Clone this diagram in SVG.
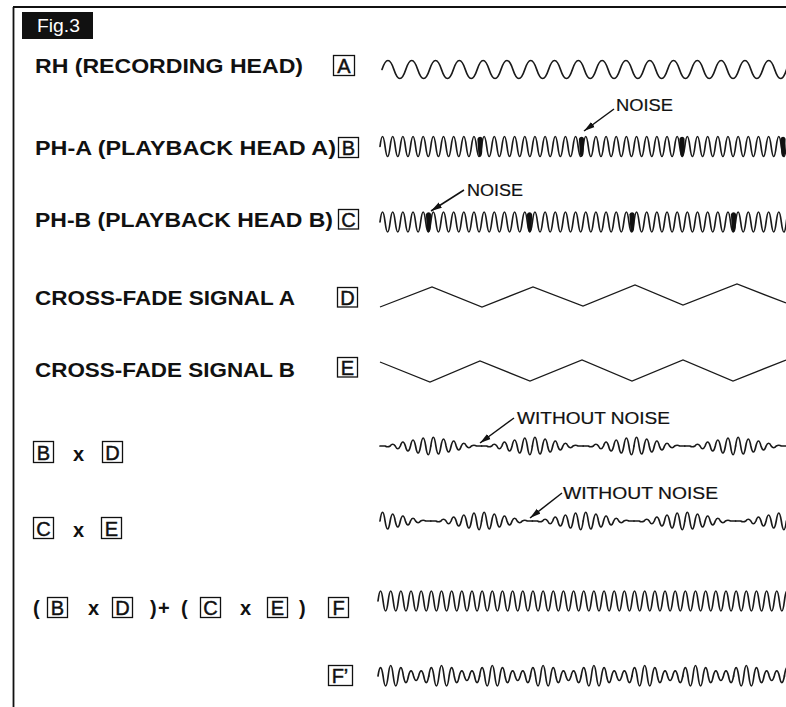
<svg xmlns="http://www.w3.org/2000/svg" xmlns:xlink="http://www.w3.org/1999/xlink" width="786" height="707" viewBox="0 0 786 707">
<style>
.lbl{font-family:"Liberation Sans",Arial,Helvetica,sans-serif;font-weight:bold;font-size:20px;fill:#111}
.box{fill:none;stroke:#111;stroke-width:1.3}
.bl{font-family:"Liberation Sans",Arial,Helvetica,sans-serif;font-size:20px;fill:#111;stroke:#111;stroke-width:0.45;text-anchor:middle}
.note{font-family:"Liberation Sans",Arial,Helvetica,sans-serif;font-size:17px;fill:#111;stroke:#111;stroke-width:0.2}
.wave{fill:none;stroke:#1a1a1a;stroke-width:1.7;stroke-linejoin:round;stroke-linecap:round}
.tri{fill:none;stroke:#1a1a1a;stroke-width:1.3;stroke-linejoin:miter}
.nz{fill:#111}
.arr{fill:none;stroke:#111;stroke-width:1.5}
.frame{fill:none;stroke:#111;stroke-width:1.8}
</style>
<defs>
<marker id="ah" markerUnits="userSpaceOnUse" markerWidth="12" markerHeight="8" refX="11" refY="3.5" orient="auto">
<path d="M0,0.5 L11,3.5 L0,6.5 Z" fill="#111"/>
</marker>
<path id="w10" class="wave" d="M0,0 q2.54,-20 5.08,0 t5.08,0 t5.08,0 t5.08,0 t5.08,0 t5.08,0 t5.08,0 t5.08,0 t5.08,0 t5.08,0 t5.08,0 t5.08,0 t5.08,0 t5.08,0 t5.08,0 t5.08,0 t5.08,0 t5.08,0 t5.08,0 t5.08,0 t5.08,0 t5.08,0 t5.08,0 t5.08,0 t5.08,0 t5.08,0 t5.08,0 t5.08,0 t5.08,0 t5.08,0 t5.08,0 t5.08,0 t5.08,0 t5.08,0 t5.08,0 t5.08,0 t5.08,0 t5.08,0 t5.08,0 t5.08,0 t5.08,0 t5.08,0 t5.08,0 t5.08,0 t5.08,0 t5.08,0 t5.08,0 t5.08,0 t5.08,0 t5.08,0 t5.08,0 t5.08,0 t5.08,0 t5.08,0 t5.08,0 t5.08,0 t5.08,0 t5.08,0 t5.08,0 t5.08,0 t5.08,0 t5.08,0 t5.08,0 t5.08,0 t5.08,0 t5.08,0 t5.08,0 t5.08,0 t5.08,0 t5.08,0 t5.08,0 t5.08,0 t5.08,0 t5.08,0 t5.08,0 t5.08,0 t5.08,0 t5.08,0 t5.08,0 t5.08,0 t5.08,0 t5.08,0"/>
<path id="up" class="wave" d="M0,0 h5.08 q2.54,1.5 5.08,0 q2.54,-3.5 5.08,0 q2.54,5.5 5.08,0 q2.54,-8 5.08,0 q2.54,10 5.08,0 q2.54,-12 5.08,0 q2.54,14 5.08,0 q2.54,-16 5.08,0 q2.54,17.5 5.08,0"/>
<path id="dn" class="wave" d="M0,0 q2.54,-17.5 5.08,0 q2.54,16 5.08,0 q2.54,-14 5.08,0 q2.54,12 5.08,0 q2.54,-10 5.08,0 q2.54,8 5.08,0 q2.54,-5.5 5.08,0 q2.54,3.5 5.08,0 q2.54,-1.5 5.08,0 h5.08"/>
<path id="fp" class="wave" d="M0,0 q2.54,-16.9 5.08,0 q2.54,19.9 5.08,0 q2.54,-21 5.08,0 q2.54,19.9 5.08,0 q2.54,-16.9 5.08,0 q2.54,13.1 5.08,0 q2.54,-10.1 5.08,0 q2.54,9 5.08,0 q2.54,-10.1 5.08,0 q2.54,13.1 5.08,0"/>
<path id="nz" class="nz" d="M-2.6,-8 C-1.5,-11 1.8,-11 2.6,-8 L2.2,5 C1.6,11.5 -1.4,11.5 -1.8,5 Z"/>
</defs>
<rect width="786" height="707" fill="#fff"/>
<g id="frame">
<path class="frame" d="M13,7 H786 M13.5,7 V707"/>
</g>
<g id="fig-label">
<rect x="22" y="12" width="71" height="27" fill="#111"/>
<text x="37" y="32" font-family="Liberation Sans,Arial,sans-serif" font-size="18" fill="#fff" textLength="43" lengthAdjust="spacingAndGlyphs">Fig.3</text>
</g>
<g id="row-a">
<text class="lbl" x="35" y="73" textLength="268" lengthAdjust="spacingAndGlyphs">RH (RECORDING HEAD)</text>
<rect class="box" x="333.5" y="55.5" width="21" height="20"/>
<text class="bl" x="344" y="73">A</text>
<path class="wave" d="M382,69.5 q5.95,-18 11.9,0 t11.9,0 t11.9,0 t11.9,0 t11.9,0 t11.9,0 t11.9,0 t11.9,0 t11.9,0 t11.9,0 t11.9,0 t11.9,0 t11.9,0 t11.9,0 t11.9,0 t11.9,0 t11.9,0 t11.9,0 t11.9,0 t11.9,0 t11.9,0 t11.9,0 t11.9,0 t11.9,0 t11.9,0 t11.9,0 t11.9,0 t11.9,0 t11.9,0 t11.9,0 t11.9,0 t11.9,0 t11.9,0 t11.9,0 t11.9,0"/>
</g>
<g id="row-b">
<text class="lbl" x="35" y="155" textLength="301" lengthAdjust="spacingAndGlyphs">PH-A (PLAYBACK HEAD A)</text>
<rect class="box" x="338.5" y="137.5" width="20" height="20"/>
<text class="bl" x="348.5" y="155">B</text>
<use xlink:href="#w10" x="380" y="146.5"/>
<use xlink:href="#nz" x="480" y="147"/>
<use xlink:href="#nz" x="581.5" y="147"/>
<use xlink:href="#nz" x="682" y="147"/>
<use xlink:href="#nz" x="783" y="147"/>
</g>
<g id="row-c">
<text class="lbl" x="35" y="227" textLength="298" lengthAdjust="spacingAndGlyphs">PH-B (PLAYBACK HEAD B)</text>
<rect class="box" x="338.5" y="209.5" width="20" height="19.5"/>
<text class="bl" x="348.5" y="226.5">C</text>
<use xlink:href="#w10" x="380" y="222"/>
<use xlink:href="#nz" x="428.5" y="222.5"/>
<use xlink:href="#nz" x="529.5" y="222.5"/>
<use xlink:href="#nz" x="632" y="222.5"/>
<use xlink:href="#nz" x="733.5" y="222.5"/>
</g>
<g id="row-d">
<text class="lbl" x="35" y="305" textLength="260" lengthAdjust="spacingAndGlyphs">CROSS-FADE SIGNAL A</text>
<rect class="box" x="337.5" y="287.5" width="20" height="19.5"/>
<text class="bl" x="347.5" y="304.5">D</text>
<polyline class="tri" points="380,307 432,287 482,307 533,287 583,306 635,285 683,305 737,284 786,303"/>
</g>
<g id="row-e">
<text class="lbl" x="35" y="377" textLength="260" lengthAdjust="spacingAndGlyphs">CROSS-FADE SIGNAL B</text>
<rect class="box" x="337.5" y="357.5" width="20" height="19.5"/>
<text class="bl" x="347.5" y="374.5">E</text>
<polyline class="tri" points="380,362 430,382 480,361 530,381 582,360 632,381 683,360 733,381 786,360"/>
</g>
<g id="row-bd">
<rect class="box" x="33.5" y="441.5" width="20" height="21"/>
<text class="bl" x="43.5" y="459.5">B</text>
<text class="lbl" x="73" y="461">x</text>
<rect class="box" x="102.5" y="441.5" width="20" height="21"/>
<text class="bl" x="112.5" y="459.5">D</text>
<use xlink:href="#up" x="380" y="446"/>
<use xlink:href="#dn" x="430.8" y="446"/>
<use xlink:href="#up" x="481.6" y="446"/>
<use xlink:href="#dn" x="532.4" y="446"/>
<use xlink:href="#up" x="583.2" y="446"/>
<use xlink:href="#dn" x="634" y="446"/>
<use xlink:href="#up" x="684.8" y="446"/>
<use xlink:href="#dn" x="735.6" y="446"/>
</g>
<g id="row-ce">
<rect class="box" x="33.5" y="517.5" width="20" height="21"/>
<text class="bl" x="43.5" y="535.5">C</text>
<text class="lbl" x="73" y="537">x</text>
<rect class="box" x="101.5" y="517.5" width="20" height="21"/>
<text class="bl" x="111.5" y="535.5">E</text>
<use xlink:href="#dn" x="380" y="521"/>
<use xlink:href="#up" x="430.8" y="521"/>
<use xlink:href="#dn" x="481.6" y="521"/>
<use xlink:href="#up" x="532.4" y="521"/>
<use xlink:href="#dn" x="583.2" y="521"/>
<use xlink:href="#up" x="634" y="521"/>
<use xlink:href="#dn" x="684.8" y="521"/>
<use xlink:href="#up" x="735.6" y="521"/>
</g>
<g id="row-f">
<text class="lbl" x="33" y="615">(</text>
<rect class="box" x="47.5" y="597.5" width="20" height="20"/>
<text class="bl" x="57.5" y="615">B</text>
<text class="lbl" x="88" y="615">x</text>
<rect class="box" x="112.5" y="597.5" width="20" height="20"/>
<text class="bl" x="122.5" y="615">D</text>
<text class="lbl" x="150" y="615">)</text>
<text class="lbl" x="158" y="615">+</text>
<text class="lbl" x="181" y="615">(</text>
<rect class="box" x="200.5" y="597.5" width="20" height="20"/>
<text class="bl" x="210.5" y="615">C</text>
<text class="lbl" x="240" y="615">x</text>
<rect class="box" x="267.5" y="597.5" width="20" height="20"/>
<text class="bl" x="277.5" y="615">E</text>
<text class="lbl" x="299" y="615">)</text>
<rect class="box" x="328.5" y="597.5" width="20" height="20"/>
<text class="bl" x="338.5" y="615">F</text>
<use xlink:href="#w10" x="378" y="601"/>
</g>
<g id="row-f2">
<rect class="box" x="328.5" y="665.5" width="24" height="20"/>
<text class="bl" x="340" y="683">F’</text>
<use xlink:href="#fp" x="378" y="676"/>
<use xlink:href="#fp" x="428.8" y="676"/>
<use xlink:href="#fp" x="479.6" y="676"/>
<use xlink:href="#fp" x="530.4" y="676"/>
<use xlink:href="#fp" x="581.2" y="676"/>
<use xlink:href="#fp" x="632" y="676"/>
<use xlink:href="#fp" x="682.8" y="676"/>
<use xlink:href="#fp" x="733.6" y="676"/>
<use xlink:href="#fp" x="784.4" y="676"/>
</g>
<g id="annotations">
<text class="note" x="616" y="111" textLength="57" lengthAdjust="spacingAndGlyphs">NOISE</text>
<text class="note" x="467" y="196" textLength="56" lengthAdjust="spacingAndGlyphs">NOISE</text>
<text class="note" x="517" y="424" textLength="153" lengthAdjust="spacingAndGlyphs">WITHOUT NOISE</text>
<text class="note" x="563" y="499" textLength="155" lengthAdjust="spacingAndGlyphs">WITHOUT NOISE</text>
</g>
<g id="connectors">
<line class="arr" x1="614" y1="109" x2="584" y2="131" marker-end="url(#ah)"/>
<line class="arr" x1="464" y1="190" x2="431" y2="211" marker-end="url(#ah)"/>
<line class="arr" x1="514" y1="418" x2="480" y2="443" marker-end="url(#ah)"/>
<line class="arr" x1="562" y1="493" x2="530" y2="518" marker-end="url(#ah)"/>
</g>
</svg>
